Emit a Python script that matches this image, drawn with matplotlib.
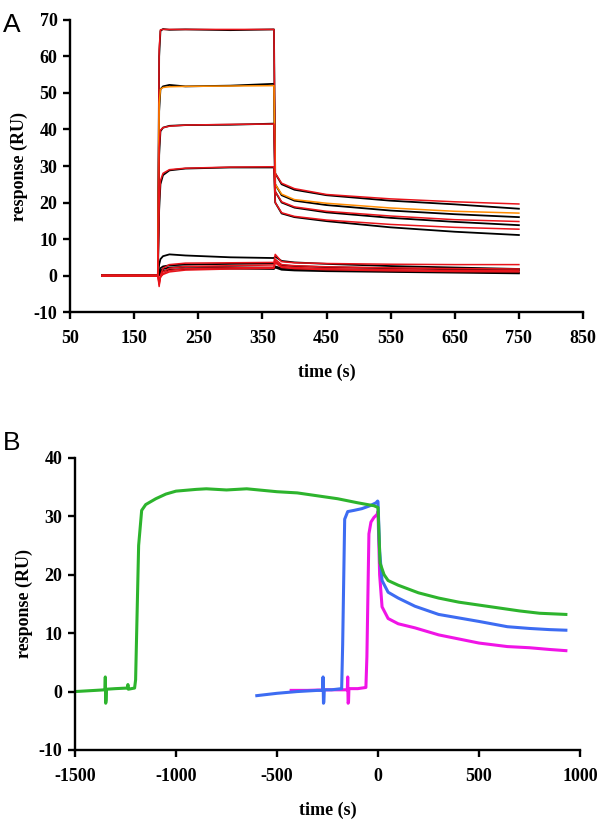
import numpy as np
import matplotlib
matplotlib.use('Agg')
import matplotlib.pyplot as plt

plt.rcParams['axes.unicode_minus'] = False
plt.rcParams['font.family'] = ['Liberation Serif', 'DejaVu Serif']

# ---- panel A: sensorgram keypoints (time s, response RU) ----
t_a = [100, 187, 189, 191, 195, 205, 230, 300, 368, 370, 380, 400, 450, 550, 650, 750]

black_a = [
    [0, 0, 60, 67, 67.5, 67.3, 67.4, 67.2, 67.4, 28, 25, 23.5, 22, 20.5, 19.5, 18.3],
    [0, 0, 45, 51, 51.8, 52.2, 51.8, 52, 52.5, 25, 22, 20.5, 19.3, 17.8, 16.8, 16],
    [0, 0, 33, 39.5, 40.5, 41, 41.2, 41.3, 41.6, 23, 20, 18.6, 17.3, 15.8, 14.7, 13.8],
    [0, 0, 18, 25, 27.5, 28.8, 29.3, 29.6, 29.6, 20, 17, 16, 14.9, 13.2, 12, 11.1],
    [0, 0, 3, 4.5, 5.3, 5.8, 5.5, 5, 4.8, 5.2, 4, 3.6, 3.2, 2.6, 2.2, 1.8],
    [0, 0, 1, 2, 2.5, 2.8, 3, 3.2, 3.3, 3.6, 2.8, 2.6, 2.3, 2, 1.7, 1.4],
    [0, 0, 0.5, 1.3, 1.8, 2.2, 2.4, 2.3, 2.1, 2.5, 2, 1.7, 1.5, 1.2, 1, 0.8],
    [0, 0, 0, 0.8, 1.2, 1.6, 1.8, 1.9, 1.8, 2.2, 1.6, 1.4, 1.2, 1, 0.8, 0.6],
]
fit_a = [
    [0, 0, 62, 67.3, 67.4, 67.4, 67.4, 67.4, 67.4, 28, 25.3, 23.8, 22.2, 21, 20.2, 19.6],
    [0, 0, 47, 51, 51.5, 51.7, 51.8, 51.9, 52, 25, 22.3, 20.8, 19.8, 18.5, 17.6, 17.1],
    [0, 0, 35, 39.8, 40.5, 40.9, 41.2, 41.4, 41.5, 23, 20.2, 18.8, 17.6, 16.3, 15.3, 14.8],
    [0, 0, 20, 26, 28, 29, 29.4, 29.7, 29.8, 20, 17.2, 16.2, 15.2, 14, 13.2, 12.7],
    [0, 0, -3, 0, 2, 3, 3.4, 3.5, 3.6, 5.8, 3.8, 3.5, 3.3, 3.1, 3, 3],
    [0, 0, -2.5, -0.5, 1, 2, 2.5, 2.7, 2.9, 4.5, 3, 2.7, 2.4, 2.1, 1.9, 1.8],
    [0, 0, -2, -0.5, 0.5, 1.4, 1.9, 2.1, 2.3, 4, 2.5, 2.2, 1.9, 1.6, 1.4, 1.3],
    [0, 0, -1.5, -0.3, 0.3, 1, 1.5, 1.8, 2, 3.5, 2.2, 1.9, 1.6, 1.3, 1.1, 1],
]
fit_colors = ['#e8141b', '#ff8c00', '#e8141b', '#e8141b', '#e8141b', '#e8141b', '#e8141b', '#e8141b']

# ---- panel B: three sensorgrams ----
t_green = [-1500, -1400, -1352, -1350, -1348, -1346, -1344, -1300, -1240, -1238, -1236, -1205,
           -1200, -1185, -1170, -1150, -1100, -1050, -1000, -900, -850, -750, -650, -500, -400,
           -300, -200, -100, -20, 0, 10, 30, 50, 100, 200, 300, 400, 500, 600, 700, 800, 930]
r_green = [0, 0.2, 0.3, 2.5, -2, -1.5, 0.4, 0.5, 0.6, 1.2, 0.4, 0.6,
           2, 25, 31, 32, 33, 33.8, 34.3, 34.6, 34.7, 34.5, 34.7, 34.2, 34,
           33.5, 33, 32.3, 31.8, 31.5, 22, 20, 19, 18.2, 16.9, 16, 15.3, 14.8, 14.3, 13.8, 13.4, 13.2]

t_blue = [-600, -500, -400, -300, -274, -272, -270, -268, -266, -230, -180, -175, -165, -150,
          -120, -80, -40, -10, -2, 0, 8, 20, 50, 100, 183, 300, 400, 500, 640, 750, 850, 930]
r_blue = [-0.7, -0.3, 0, 0.2, 0.2, 2.5, -2, -1.8, 0.3, 0.3, 0.5, 8, 29.5, 30.8,
          31, 31.3, 31.8, 32.3, 32.6, 32.5, 24, 19, 17, 16, 14.6, 13.2, 12.6, 12, 11.1, 10.8, 10.6, 10.5]

t_mag = [-430, -350, -250, -200, -152, -150, -148, -146, -144, -100, -60, -55, -45, -35,
         -20, -5, 0, 8, 20, 50, 100, 183, 300, 400, 500, 640, 750, 850, 930]
r_mag = [0.2, 0.2, 0.3, 0.3, 0.3, 2.5, -2, -1.8, 0.5, 0.5, 0.7, 6, 27, 29,
         29.8, 30.3, 30.8, 20, 14.5, 12.5, 11.6, 10.9, 9.7, 9, 8.3, 7.7, 7.5, 7.2, 7]

fig = plt.figure(figsize=(6, 8.3), dpi=100)


def style_axes(ax):
    for s in ['top', 'right']:
        ax.spines[s].set_visible(False)
    for s in ['left', 'bottom']:
        ax.spines[s].set_linewidth(1.7)
    ax.tick_params(axis='both', direction='out', length=5, width=1.7)
    ax.tick_params(axis='x', pad=8)
    ax.tick_params(axis='y', pad=4)
    for lab in ax.get_xticklabels() + ax.get_yticklabels():
        lab.set_fontweight('bold')
        lab.set_fontsize(13)
    ax.set_ylabel('response (RU)', fontsize=13, fontweight='bold', labelpad=4)
    ax.set_xlabel('time (s)', fontsize=13, fontweight='bold', labelpad=12)


# panel A
ax1 = fig.add_axes([0.1167, 0.624, 0.855, 0.352])
for y in black_a:
    ax1.plot(t_a, y, color='black', lw=1.3)
for y, c in zip(fit_a, fit_colors):
    ax1.plot(t_a, y, color=c, lw=1.1)
ax1.set_xlim(50, 850)
ax1.set_ylim(-10, 70)
ax1.set_xticks(np.arange(50, 851, 100))
ax1.set_yticks(np.arange(-10, 71, 10))
style_axes(ax1)

# panel B
ax2 = fig.add_axes([0.125, 0.0964, 0.8417, 0.352])
ax2.plot(t_mag, r_mag, color='#f014e6', lw=2.2)
ax2.plot(t_blue, r_blue, color='#3d6cf2', lw=2.2)
ax2.plot(t_green, r_green, color='#2db42d', lw=2.2)
ax2.set_xlim(-1500, 1000)
ax2.set_ylim(-10, 40)
ax2.set_xticks(np.arange(-1500, 1001, 500))
ax2.set_yticks(np.arange(-10, 41, 10))
style_axes(ax2)

fig.text(0.005, 0.97, 'A', fontsize=19, family=['Liberation Sans', 'DejaVu Sans'], va='center')
fig.text(0.005, 0.466, 'B', fontsize=19, family=['Liberation Sans', 'DejaVu Sans'], va='center')

fig.savefig('out.png', dpi=100)
